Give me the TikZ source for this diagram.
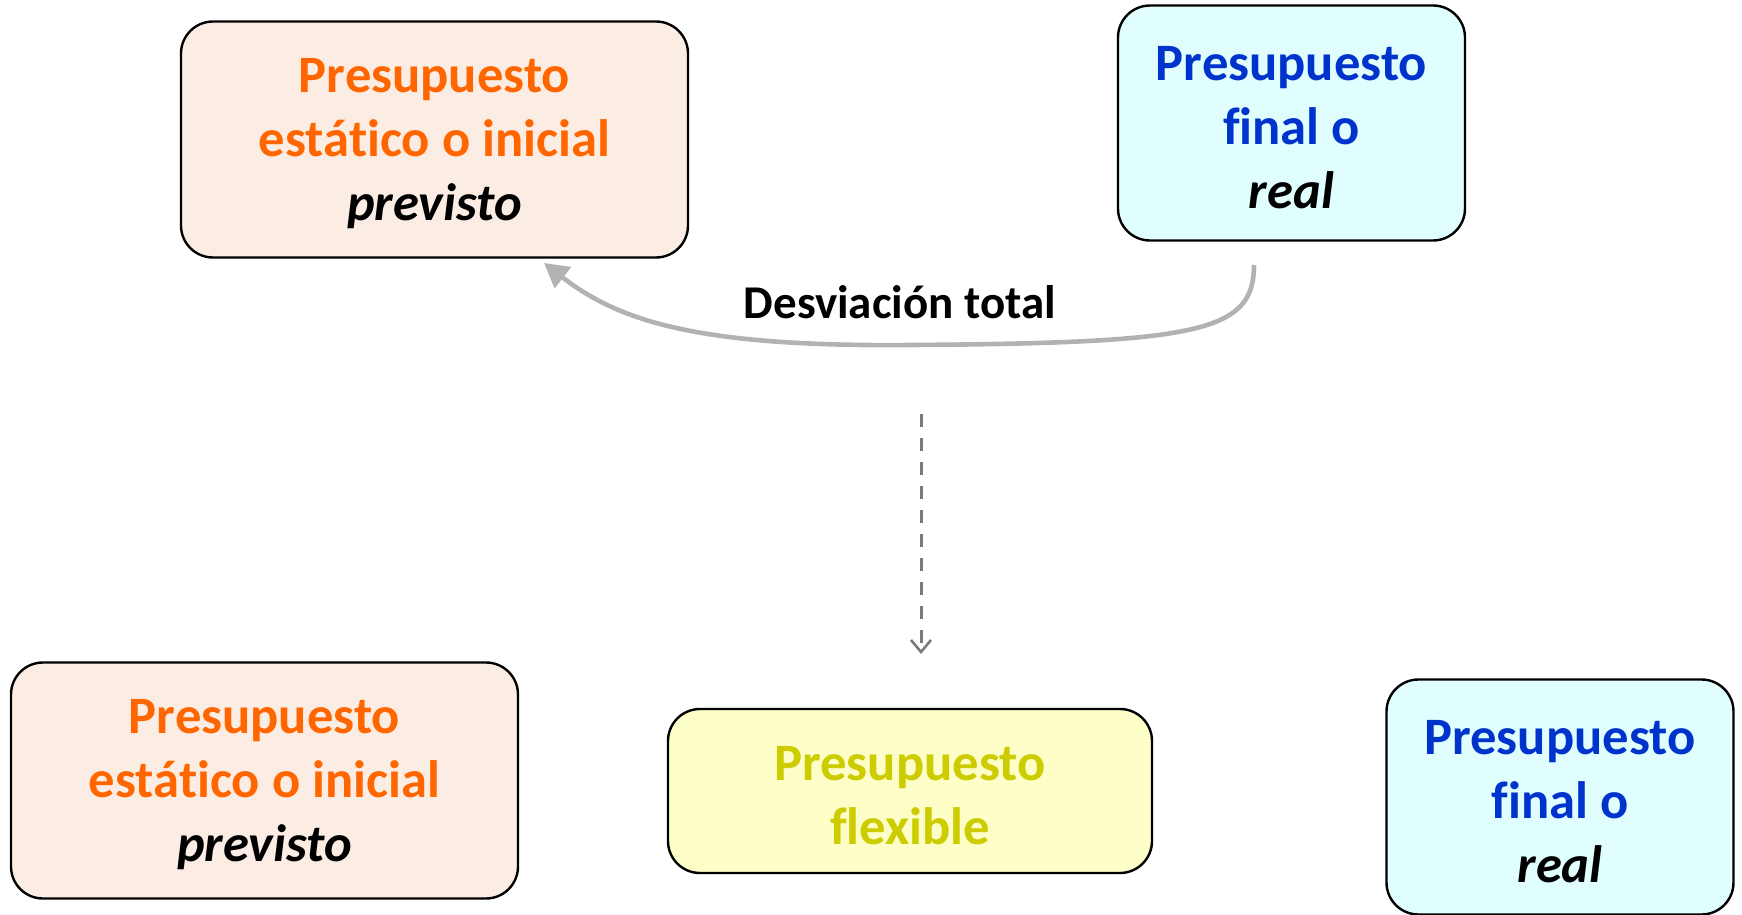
\documentclass[tikz,border=0pt]{standalone}
\usepackage{fontspec}
\setmainfont{Carlito}[Ligatures={NoCommon,NoContextual}]
\usetikzlibrary{arrows.meta}
\definecolor{orangeT}{HTML}{FF6600}
\definecolor{orangeF}{HTML}{FCEDE4}
\definecolor{blueT}{HTML}{0033CC}
\definecolor{blueF}{HTML}{E0FEFE}
\definecolor{yellowT}{HTML}{CCCC00}
\definecolor{yellowF}{HTML}{FEFEC8}
\definecolor{curvegray}{HTML}{B2B2B2}
\definecolor{dashgray}{HTML}{7A7A7A}
\newcommand\myTopStrut{\rule{0pt}{21.5pt}}
\tikzset{
  box/.style={draw=black, line width=1.2pt, rounded corners=16pt, inner sep=0pt,
    align=center, font=\fontsize{26.3pt}{32pt}\selectfont\bfseries},
  staticbox/.style={box, fill=orangeF, text=orangeT, minimum width=253.5pt, minimum height=118pt},
  realbox/.style={box, fill=blueF, text=blueT, minimum width=173.5pt, minimum height=117.5pt},
  flexbox/.style={box, fill=yellowF, text=yellowT, minimum width=242pt, minimum height=82pt},
  curvearrow/.style={draw=curvegray, line width=2.3pt, -{Triangle[length=12pt,width=13pt]}},
  dasharrow/.style={draw=dashgray, line width=1.5pt, dash pattern=on 6.5pt off 5.5pt,
    -{Straight Barb[length=6pt,width=10pt,line width=1.3pt]}},
  lbl/.style={font=\fontsize{23.5pt}{28pt}\selectfont\bfseries, text=black}
}
\begin{document}
\begin{tikzpicture}[x=0.5pt,y=-0.5pt]
\useasboundingbox (0,0) rectangle (1742,915);
\node[staticbox] (A) at (434.5,139.5) {\myTopStrut Presupuesto\\estático o inicial\\{\color{black}\itshape previsto}};
\node[realbox] (B) at (1291.5,123) {\myTopStrut Presupuesto\\final o\\{\color{black}\itshape real}};
\node[staticbox] (C) at (264.5,780.5) {\myTopStrut Presupuesto\\estático o inicial\\{\color{black}\itshape previsto}};
\node[flexbox] (D) at (910,791) {\myTopStrut Presupuesto\\flexible};
\node[realbox] (E) at (1560,797) {\myTopStrut Presupuesto\\final o\\{\color{black}\itshape real}};
\coordinate (S) at (1254,265);
\coordinate (T) at (544,263);
\draw[curvearrow] (S) .. controls (1254,332) and (1200,343) .. (911,345) .. controls (700,347) and (620,322) .. (T);
\node[lbl] (L) at (900,302) {Desviación total};
\coordinate (P) at (921,414);
\coordinate (Q) at (921,654);
\draw[dasharrow] (P) -- (Q);
\end{tikzpicture}
\end{document}
